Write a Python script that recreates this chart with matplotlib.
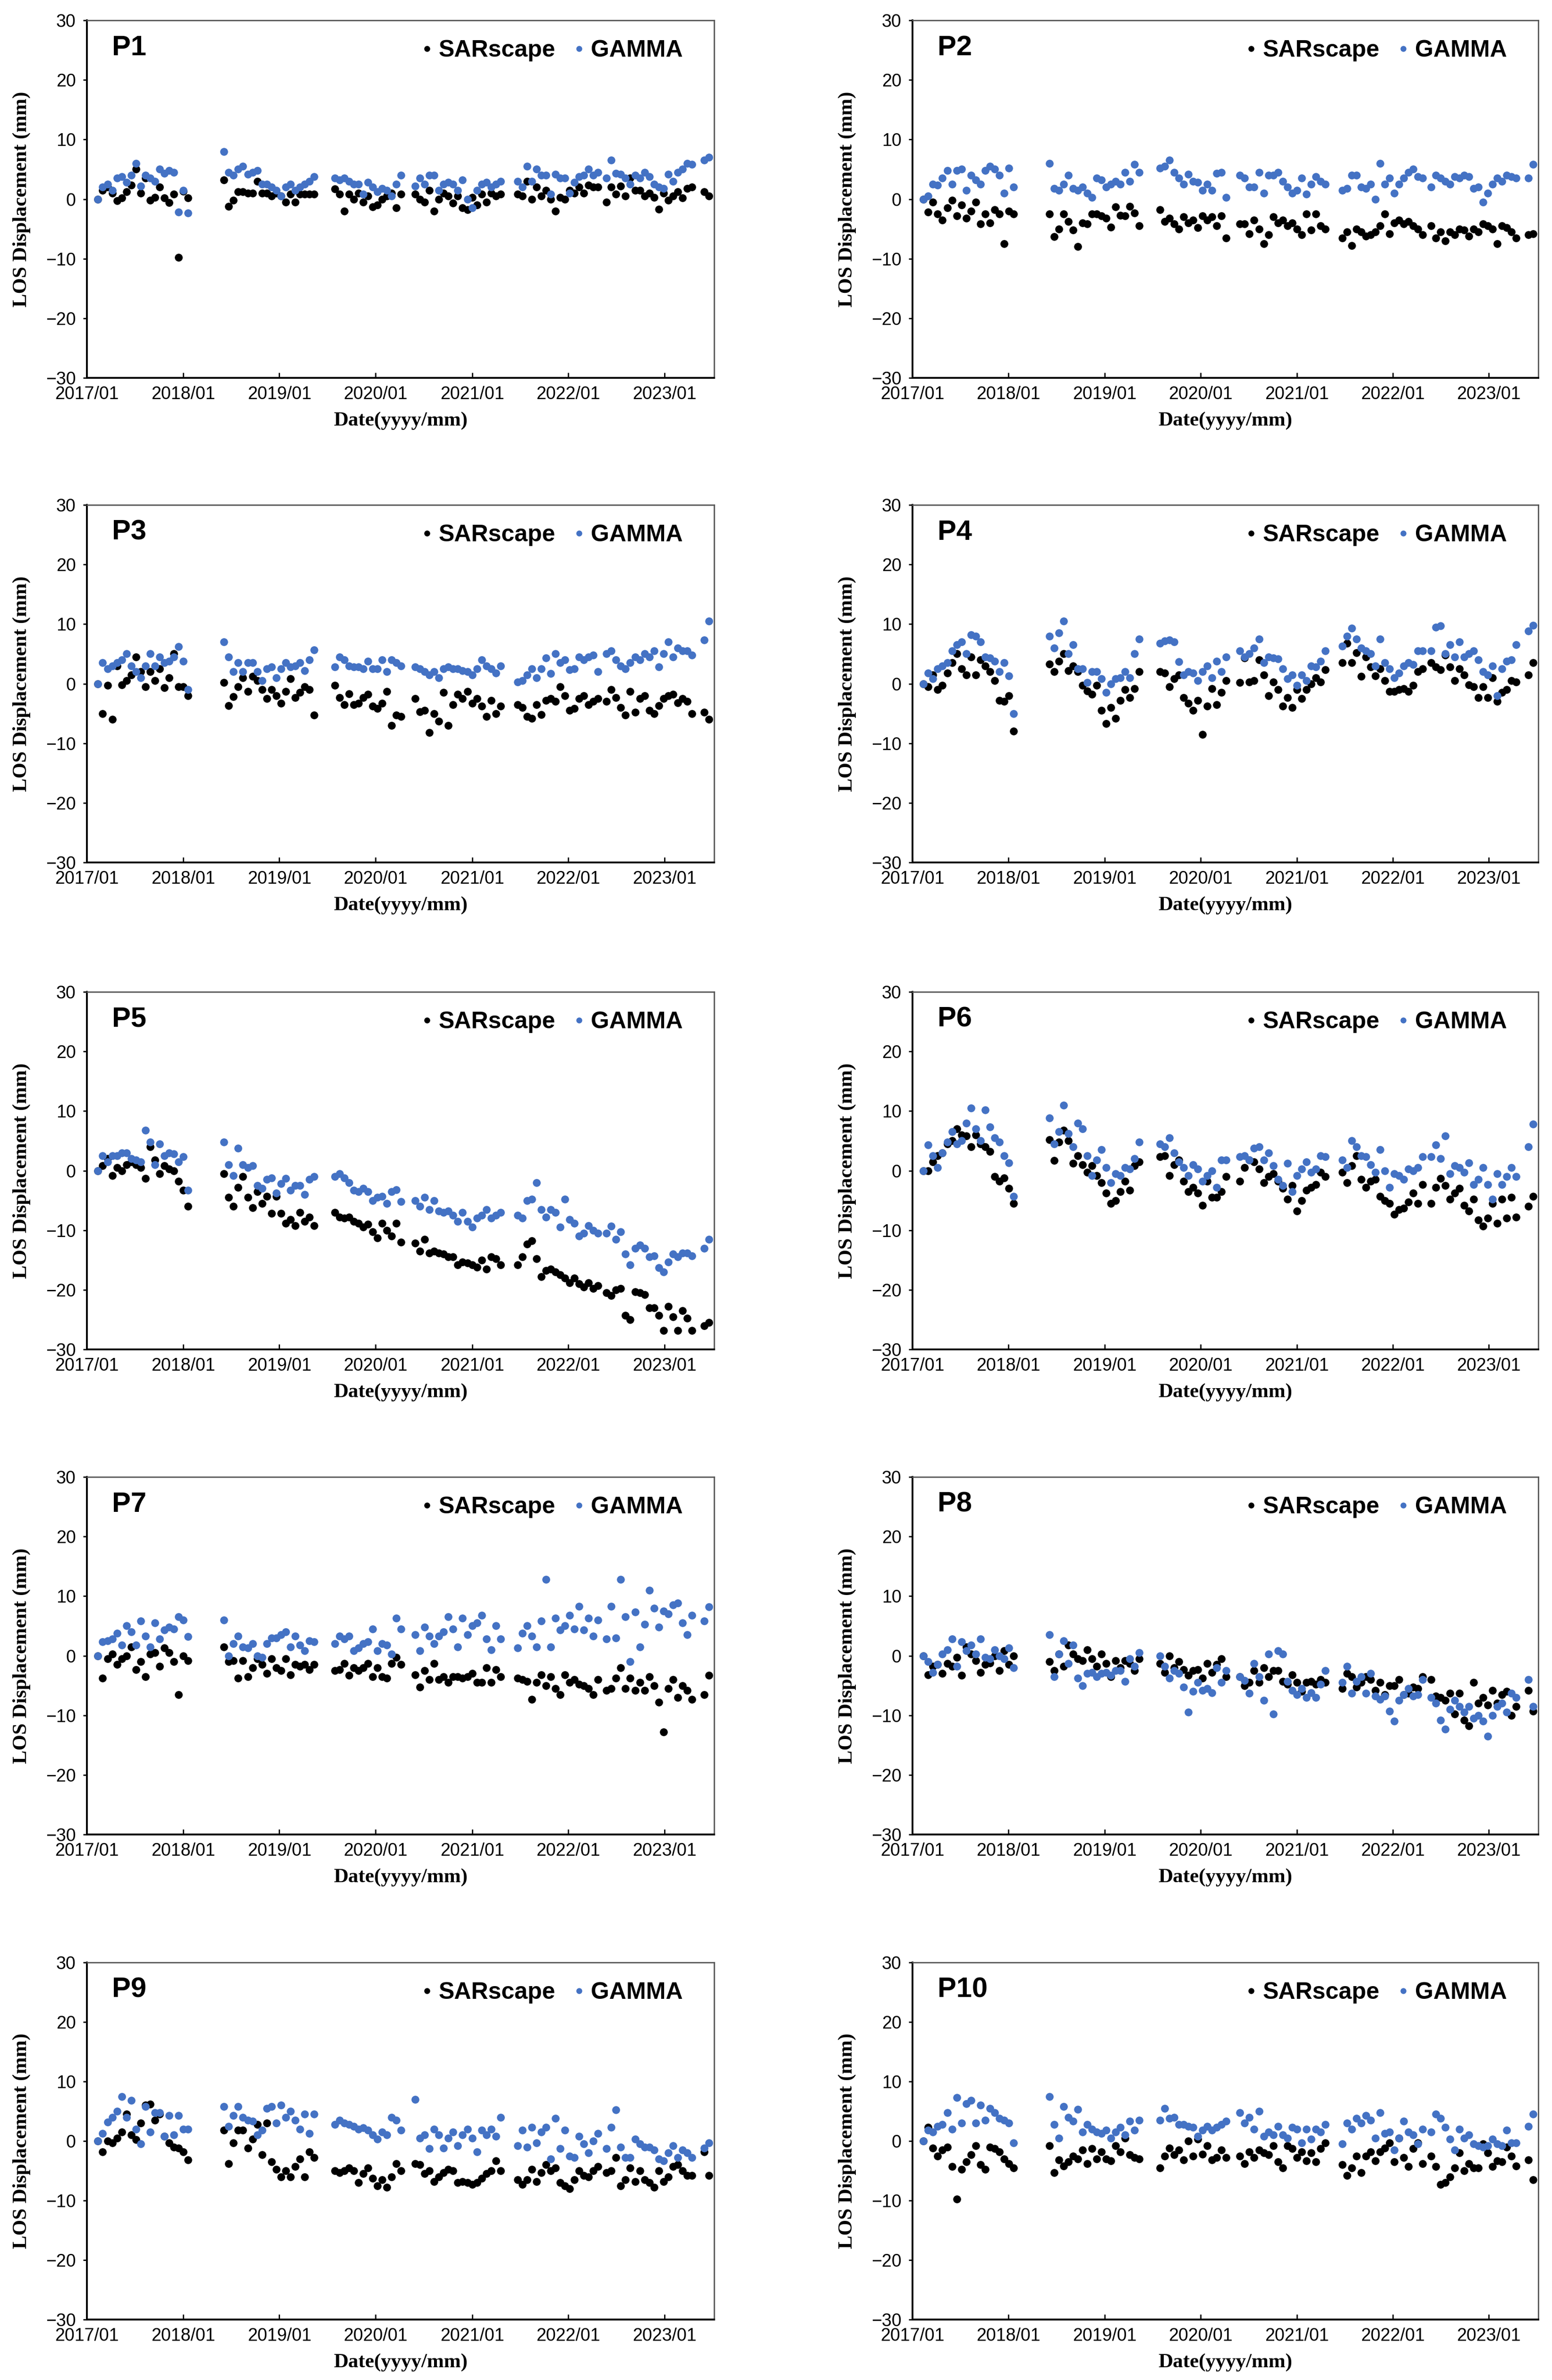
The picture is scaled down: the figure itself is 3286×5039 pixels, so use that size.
import numpy as np
import pandas as pd
import matplotlib
matplotlib.use("Agg")
import matplotlib.pyplot as plt
import matplotlib.dates as mdates
from matplotlib.lines import Line2D

# acquisition blocks: first date of each block, regular revisit inside a block
seg_starts = ["2017-02-12", "2018-06-05", "2019-07-30", "2020-05-30",
              "2021-06-22", "2022-05-26", "2023-06-01"]
revisit = "18D"

panel_names = ["P1", "P2", "P3", "P4", "P5", "P6", "P7", "P8", "P9", "P10"]

# LOS displacement (mm), one inner list per acquisition block
p1_sarscape = [
    [0.0, 1.5, 2.0, 1.0, -0.3, 0.2, 1.2, 2.3, 5.0, 1.0, 3.5, -0.2, 0.3, 2.0, 0.2, -0.6, 0.8, -9.8, 1.3, 0.2],
    [3.2, -1.2, -0.2, 1.2, 1.2, 1.0, 1.0, 3.0, 1.0, 1.0, 0.5, 1.0, 0.5, -0.5, 0.8, -0.5, 0.8, 0.8, 0.8, 0.8],
    [1.7, 0.8, -2.0, 0.8, 0.0, 1.0, -0.5, 0.5, -1.3, -1.0, 0.0, 0.5, 1.0, -1.5, 0.8],
    [0.8, 0.0, -0.5, 1.5, -2.0, 0.0, 1.0, 0.5, -0.7, 0.5, -1.5, -1.8, 0.3, -1.0, 0.8, -0.5, 1.0, 0.5, 0.8],
    [0.8, 0.5, 3.0, 0.0, 2.0, 0.5, 1.5, 0.0, -2.0, 0.3, 0.0, 1.5, 1.0, 2.0, 1.0, 2.3, 2.0, 2.0],
    [-0.5, 2.0, 0.8, 2.2, 0.5, 3.5, 1.5, 1.5, 0.5, 1.0, 0.3, -1.7, 1.0, -0.2, 0.5, 1.2, 0.2, 1.8, 2.0],
    [1.2, 0.5],
]
p1_gamma = [
    [0.0, 2.0, 2.5, 1.5, 3.5, 3.8, 2.8, 4.0, 6.0, 2.2, 4.0, 3.5, 3.0, 5.0, 4.3, 4.8, 4.5, -2.2, 1.5, -2.3],
    [8.0, 4.5, 4.0, 5.0, 5.5, 4.2, 4.5, 4.8, 2.5, 2.5, 2.0, 1.5, 0.5, 2.0, 2.5, 1.5, 2.0, 2.5, 3.0, 3.8],
    [3.5, 3.2, 3.5, 3.0, 2.5, 2.5, 0.8, 2.8, 2.0, 1.2, 1.8, 1.5, 0.5, 2.5, 4.0],
    [2.2, 3.5, 2.5, 4.0, 4.0, 1.5, 2.5, 2.8, 2.5, 1.5, 3.2, 0.0, -1.5, 1.5, 2.5, 2.8, 2.0, 2.5, 3.0],
    [3.0, 2.0, 5.5, 3.0, 5.0, 4.0, 4.0, 0.8, 4.2, 3.5, 3.5, 1.0, 2.8, 3.8, 4.0, 5.0, 4.0, 4.5],
    [3.5, 6.5, 4.3, 4.2, 3.5, 2.5, 4.0, 3.5, 4.5, 3.8, 2.5, 2.0, 1.8, 4.2, 3.0, 4.5, 5.0, 6.0, 5.8],
    [6.5, 7.0],
]

p2_sarscape = [
    [0.0, -2.2, -0.5, -2.5, -3.5, -1.5, -0.2, -2.8, -1.0, -3.2, -2.0, -0.5, -4.2, -2.5, -4.0, -1.8, -2.5, -7.5, -2.0, -2.5],
    [-2.5, -6.3, -5.0, -2.5, -3.8, -5.2, -8.0, -4.0, -4.2, -2.5, -2.5, -2.8, -3.2, -4.7, -1.3, -2.7, -2.8, -1.2, -2.3, -4.5],
    [-1.8, -3.8, -3.2, -4.2, -5.0, -3.0, -4.0, -3.5, -4.8, -2.8, -3.5, -3.0, -4.5, -2.8, -6.5],
    [-4.2, -4.2, -5.8, -3.5, -5.0, -7.5, -6.0, -3.0, -4.0, -3.5, -4.5, -4.0, -5.0, -6.0, -2.5, -5.2, -2.5, -4.5, -5.0],
    [-6.5, -5.5, -7.8, -5.0, -5.5, -6.2, -6.0, -5.5, -4.5, -2.5, -5.8, -4.0, -3.5, -4.2, -3.8, -4.5, -5.0, -6.0],
    [-4.5, -6.5, -5.5, -7.0, -5.5, -6.0, -5.0, -5.2, -6.2, -5.0, -5.5, -4.2, -4.5, -5.0, -7.5, -4.5, -4.8, -5.5, -6.5],
    [-6.0, -5.8],
]
p2_gamma = [
    [0.0, 0.5, 2.5, 2.3, 3.5, 4.8, 2.5, 4.8, 5.0, 1.5, 4.0, 3.2, 2.5, 4.8, 5.5, 5.0, 4.0, 1.0, 5.2, 2.0],
    [6.0, 1.8, 1.5, 2.5, 4.0, 1.8, 1.5, 2.0, 1.0, 0.3, 3.5, 3.2, 2.0, 2.5, 3.0, 2.5, 4.5, 3.0, 5.8, 4.5],
    [5.2, 5.5, 6.5, 4.5, 3.5, 2.5, 4.2, 3.0, 2.8, 1.5, 2.5, 1.5, 4.3, 4.5, 0.3],
    [4.0, 3.5, 2.0, 2.0, 4.5, 1.0, 4.0, 4.0, 4.5, 3.0, 2.0, 1.0, 1.5, 3.5, 0.8, 2.5, 3.8, 3.0, 2.5],
    [1.5, 1.8, 4.0, 4.0, 2.0, 1.8, 2.5, 0.0, 6.0, 2.5, 3.5, 1.0, 2.5, 3.5, 4.5, 5.0, 3.8, 3.5],
    [2.0, 4.0, 3.5, 3.0, 2.5, 3.8, 3.5, 4.0, 3.8, 1.8, 2.0, -0.5, 1.0, 2.5, 3.5, 3.0, 4.0, 3.8, 3.5],
    [3.5, 5.8],
]

p3_sarscape = [
    [0.0, -5.0, -0.3, -6.0, 3.0, -0.2, 0.5, 1.5, 4.5, 2.0, -0.5, 2.0, 0.5, 2.5, -0.7, 1.0, 5.0, -0.5, -0.5, -2.0],
    [0.2, -3.7, -2.2, -0.5, 1.0, -1.3, 1.2, 0.5, -1.0, -2.5, -1.0, -2.0, -3.3, -1.3, 0.8, -2.3, -1.5, -0.5, -1.0, -5.3],
    [-0.3, -2.3, -3.5, -1.7, -3.5, -3.3, -2.3, -1.8, -3.8, -4.2, -3.3, -1.3, -7.0, -5.3, -5.5],
    [-2.5, -4.7, -4.5, -8.2, -5.0, -6.3, -1.5, -7.0, -3.5, -1.8, -2.5, -1.3, -3.3, -2.5, -3.8, -5.5, -2.8, -5.0, -3.8],
    [-3.5, -4.0, -5.5, -5.8, -3.5, -5.2, -2.8, -2.5, -3.0, -0.5, -2.0, -4.5, -4.2, -2.5, -2.0, -3.5, -3.0, -2.5],
    [-3.0, -1.0, -2.3, -4.0, -5.3, -1.3, -4.8, -2.5, -2.0, -4.5, -5.0, -3.7, -2.5, -2.0, -1.8, -3.2, -2.5, -3.0, -5.0],
    [-4.8, -6.0],
]
p3_gamma = [
    [0.0, 3.5, 2.5, 3.0, 3.5, 4.0, 5.0, 3.0, 2.0, 1.0, 3.0, 5.0, 3.0, 4.5, 3.5, 3.8, 4.5, 6.2, 3.8, -1.0],
    [7.0, 4.5, 2.0, 3.5, 2.0, 3.5, 3.5, 2.0, 0.5, 2.5, 2.8, 1.0, 2.5, 3.5, 2.8, 3.0, 3.5, 2.2, 4.0, 5.7],
    [2.8, 4.5, 4.0, 3.0, 2.8, 2.8, 2.5, 3.8, 2.5, 2.5, 4.0, 2.0, 4.0, 3.5, 3.0],
    [2.8, 2.5, 2.0, 1.5, 2.0, 1.0, 2.5, 2.8, 2.5, 2.5, 2.2, 2.0, 1.5, 2.5, 4.0, 3.0, 2.5, 1.8, 3.0],
    [0.3, 0.5, 1.5, 2.5, 1.0, 2.5, 4.3, 1.7, 5.0, 3.5, 4.0, 2.3, 2.5, 4.5, 4.0, 4.5, 4.8, 2.0],
    [5.0, 5.5, 4.0, 3.0, 2.5, 3.5, 4.5, 4.0, 5.0, 4.5, 5.5, 2.8, 5.0, 7.0, 4.5, 6.0, 5.5, 5.5, 4.8],
    [7.3, 10.5],
]

p4_sarscape = [
    [0.0, -0.5, 1.5, -1.0, -0.3, 1.8, 3.5, 5.0, 2.5, 1.5, 4.5, 1.5, 4.0, 3.0, 2.0, 0.5, -2.8, -3.0, -2.0, -8.0],
    [3.3, 2.0, 3.8, 5.0, 2.2, 3.0, 2.0, -0.3, -1.2, -1.8, -0.3, -4.5, -6.7, -4.0, -5.8, -2.8, -1.0, -2.3, -0.8, 2.0],
    [2.0, 1.8, -0.5, 0.8, 1.5, -2.3, -3.3, -4.5, -2.8, -8.5, -3.8, -0.8, -3.5, -1.5, 0.5],
    [0.2, 4.3, 0.3, 0.5, 4.0, 1.5, -2.0, 0.3, -1.0, -3.8, -2.3, -4.0, -1.0, -2.5, -1.0, 0.0, 1.0, 0.3, 2.3],
    [3.5, 6.8, 3.5, 5.2, 1.2, 4.5, 2.8, 1.3, 2.5, 0.5, -1.3, -1.3, -1.0, -0.8, -1.3, -0.3, 2.0, 2.5],
    [3.5, 2.8, 2.3, 4.8, 2.8, 0.5, 2.5, 1.5, -0.2, -0.5, -2.3, -0.5, -2.3, 1.0, -3.0, -1.5, -1.0, 0.5, 0.3],
    [1.5, 3.5],
]
p4_gamma = [
    [0.0, 1.8, 0.8, 2.5, 3.0, 3.5, 5.5, 6.5, 7.0, 5.0, 8.2, 8.0, 7.0, 4.5, 4.3, 3.8, 2.0, 3.5, 1.3, -5.0],
    [8.0, 6.0, 8.5, 10.5, 5.0, 6.5, 2.5, 2.5, 0.2, 2.0, 2.0, 0.8, -1.5, 0.0, 0.8, 1.0, 2.0, 1.0, 5.0, 7.5],
    [6.8, 7.2, 7.3, 7.0, 3.7, 1.5, 2.0, 1.8, 0.5, 2.0, 3.0, 1.0, 3.8, 2.0, 4.5],
    [5.5, 4.5, 5.0, 6.0, 7.5, 3.5, 4.5, 4.3, 4.2, 2.5, 0.8, 1.5, -0.3, 1.5, 0.5, 3.0, 2.8, 3.8, 5.5],
    [6.3, 8.0, 9.3, 7.5, 6.0, 5.5, 5.0, 3.0, 7.5, 3.5, 2.5, 1.0, 1.8, 3.0, 3.5, 3.2, 5.5, 5.5],
    [5.5, 9.5, 9.7, 5.0, 6.5, 4.5, 7.0, 4.5, 5.0, 5.5, 4.0, 2.0, 1.5, 3.0, -2.0, 2.5, 3.8, 4.0, 6.5],
    [8.8, 9.8],
]

p5_sarscape = [
    [0.0, 0.8, 2.0, -0.8, 0.5, 0.0, 1.0, 1.5, 1.0, 0.5, -1.3, 4.0, 1.8, -0.5, 0.8, 0.3, 0.0, -1.8, -3.3, -6.0],
    [-0.5, -4.5, -6.0, -2.8, -1.0, -4.5, -6.2, -3.5, -5.5, -4.3, -7.2, -4.3, -7.2, -8.8, -8.2, -9.2, -7.0, -8.5, -7.8, -9.2],
    [-7.0, -7.8, -8.0, -7.8, -8.5, -8.8, -9.5, -9.0, -10.3, -11.3, -8.8, -10.0, -11.0, -8.8, -12.0],
    [-12.2, -13.5, -11.5, -13.8, -13.5, -13.8, -14.0, -14.5, -14.5, -15.8, -15.3, -15.5, -15.8, -16.2, -15.0, -16.5, -14.5, -14.8, -15.8],
    [-15.8, -14.5, -12.3, -11.8, -14.8, -17.8, -16.8, -16.5, -17.0, -17.5, -18.0, -18.8, -18.0, -19.0, -19.5, -18.8, -19.8, -19.3],
    [-20.5, -21.0, -20.0, -19.8, -24.3, -25.0, -20.3, -20.5, -20.8, -23.0, -23.0, -24.3, -26.8, -22.8, -24.5, -26.8, -23.5, -24.8, -26.8],
    [-26.0, -25.5],
]
p5_gamma = [
    [0.0, 2.5, 1.5, 2.5, 2.5, 3.0, 3.0, 2.0, 1.8, 1.5, 6.8, 4.8, 1.0, 4.5, 2.5, 3.0, 2.8, 1.5, 2.3, -3.3],
    [4.8, 1.0, -0.8, 3.8, 1.0, 0.5, 0.8, -2.5, -3.0, -1.5, -1.2, -3.8, -2.2, -1.3, -3.3, -2.5, -2.5, -4.0, -1.5, -1.0],
    [-1.0, -0.5, -1.2, -2.0, -3.3, -3.5, -3.0, -3.5, -5.0, -4.5, -4.3, -5.5, -3.5, -3.2, -5.2],
    [-5.0, -6.0, -4.5, -6.5, -5.0, -6.8, -7.0, -6.8, -7.5, -8.5, -7.0, -8.5, -9.5, -8.0, -7.5, -6.5, -8.0, -7.5, -7.0],
    [-7.5, -8.0, -5.0, -4.8, -2.0, -6.5, -7.8, -6.5, -7.0, -9.5, -4.8, -8.2, -8.8, -11.0, -10.5, -9.2, -10.0, -10.5],
    [-10.5, -9.3, -11.5, -10.3, -14.0, -15.8, -13.0, -12.5, -13.0, -14.5, -14.3, -16.3, -17.0, -15.3, -14.0, -14.5, -13.8, -13.8, -14.3],
    [-13.0, -11.5],
]

p6_sarscape = [
    [0.0, 0.0, 1.5, 2.5, 3.0, 4.5, 5.0, 7.0, 6.0, 5.8, 4.0, 6.0, 4.5, 4.0, 3.2, -1.0, -1.8, -1.2, -3.0, -5.5],
    [5.2, 1.7, 4.8, 6.8, 5.0, 1.2, 2.5, 1.0, -0.3, 0.8, -0.8, -2.0, -3.8, -5.5, -5.0, -3.5, -1.8, -3.3, 0.8, 1.5],
    [2.3, 2.5, -0.8, 1.0, 1.8, -1.8, -3.5, -2.8, -3.8, -5.8, -1.8, -4.5, -4.5, -3.5, -1.0],
    [-1.8, 0.5, 1.8, 1.5, 0.3, -2.0, -1.0, -0.5, -1.8, -3.0, -4.8, -2.5, -6.8, -5.0, -3.3, -2.8, -2.3, -0.3, -1.0],
    [-0.3, -2.0, 0.8, 2.5, -1.5, -2.8, -1.8, -1.5, -4.3, -5.0, -5.5, -7.3, -6.5, -6.3, -5.3, -3.8, -5.5, -2.3],
    [-5.5, -2.8, -1.3, -2.5, -4.8, -3.8, -3.0, -5.8, -6.8, -4.8, -8.3, -9.3, -8.0, -5.5, -8.8, -4.8, -8.0, -4.5, -7.8],
    [-6.0, -4.3],
]
p6_gamma = [
    [0.0, 4.3, 2.5, 0.5, 3.0, 4.8, 6.5, 4.5, 5.0, 8.0, 10.5, 7.0, 5.0, 10.2, 7.3, 5.5, 4.8, 2.5, 1.3, -4.3],
    [8.8, 4.5, 6.5, 11.0, 6.2, 4.0, 8.0, 7.0, 2.5, -0.8, 1.8, 3.5, 0.5, -2.0, -0.5, -0.8, 0.5, 0.3, 2.0, 4.8],
    [4.5, 4.0, 5.5, 3.0, 1.5, 0.5, -0.8, 1.0, 0.3, -1.8, -0.8, 0.0, -2.8, 1.8, 1.8],
    [2.3, 2.5, 1.8, 3.8, 4.0, 1.8, 3.0, 0.8, -1.5, -2.5, 1.2, -3.5, -0.8, 0.3, 1.5, -0.3, 0.3, 2.5, 2.3],
    [1.8, 0.5, 5.0, 4.0, 2.5, 2.3, 1.0, -0.3, 3.5, 0.0, -2.8, -0.5, -0.8, -1.5, 0.3, 0.0, 0.5, 2.3],
    [2.3, 4.3, 2.0, 5.8, -0.5, 0.8, 0.5, -0.3, 1.3, -2.3, -1.5, 0.5, -2.3, -4.8, -0.5, -2.3, -1.0, 0.5, -1.0],
    [4.0, 7.8],
]

p7_sarscape = [
    [0.0, -3.8, -0.5, 0.3, -1.5, -0.5, 0.0, 1.5, -2.3, -1.0, -3.5, 0.3, 0.5, -1.8, 1.3, 0.5, -1.0, -6.5, 0.0, -0.8],
    [1.5, -1.0, -0.8, -3.8, -0.8, -3.5, -2.0, -0.5, -1.5, -3.0, -0.5, -2.0, -2.5, -0.5, -3.2, -1.5, -1.8, -1.5, -2.3, -1.5],
    [-2.5, -2.3, -1.3, -3.3, -2.0, -2.5, -2.0, -1.3, -3.5, -2.0, -3.5, -3.8, -1.3, -0.3, -1.5],
    [-3.2, -5.3, -2.5, -4.0, -1.3, -4.0, -3.5, -4.5, -3.5, -3.5, -3.8, -3.5, -3.0, -4.5, -4.5, -2.0, -4.5, -2.3, -3.5],
    [-3.8, -4.0, -4.3, -7.3, -4.5, -3.2, -5.0, -3.5, -5.5, -6.5, -3.2, -4.5, -4.0, -4.8, -5.0, -5.5, -6.5, -4.0],
    [-5.8, -5.5, -3.8, -2.0, -5.5, -3.8, -5.8, -4.5, -5.8, -3.5, -5.0, -7.8, -12.8, -5.5, -4.0, -7.0, -5.0, -5.8, -7.3],
    [-6.5, -3.3],
]
p7_gamma = [
    [0.0, 2.3, 2.5, 2.8, 3.8, 1.8, 5.0, 4.0, 1.8, 5.8, 3.3, 1.5, 5.5, 2.8, 4.3, 4.8, 4.5, 6.5, 6.0, 3.2],
    [6.0, 0.0, 2.0, 3.3, 1.5, 1.3, 2.0, 0.0, -0.3, 2.0, 3.0, 3.0, 3.5, 4.0, 1.5, 3.3, 1.8, 0.8, 2.5, 2.3],
    [2.0, 3.3, 2.8, 3.3, 0.8, 1.3, 2.0, 2.3, 4.5, 0.8, 2.0, 1.8, 0.3, 6.3, 4.5],
    [3.5, 0.8, 4.8, 3.3, 2.0, 3.3, 4.0, 6.5, 4.5, 1.5, 6.3, 3.5, 5.0, 5.5, 6.8, 2.8, 1.0, 5.0, 2.8],
    [1.3, 3.8, 5.0, 3.3, 1.5, 5.8, 12.8, 1.5, 6.3, 4.3, 5.0, 6.8, 4.5, 8.3, 4.3, 6.3, 3.3, 6.0],
    [2.8, 8.3, 3.0, 12.8, 6.5, -1.0, 7.3, 1.5, 5.3, 11.0, 8.0, 4.8, 7.5, 7.0, 8.5, 8.8, 5.5, 3.5, 6.8],
    [5.8, 8.2],
]

p8_sarscape = [
    [0.0, -3.2, -1.8, -1.5, -3.0, -1.3, -1.8, -0.3, -3.3, 1.5, 0.3, -0.8, -2.8, -1.5, -1.2, 0.0, -2.5, 0.8, -1.5, 0.0],
    [-1.0, -2.5, 0.3, -1.8, 1.8, 0.3, -0.5, -0.8, 1.0, -0.5, -1.8, 0.3, -1.3, -3.5, -0.8, -2.0, -0.8, -1.3, -2.5, -0.5],
    [-1.3, -2.8, 0.0, -2.0, -1.0, -2.3, -3.3, -2.5, -2.3, -3.8, -1.3, -2.8, -1.5, -0.5, -3.5],
    [-3.5, -5.0, -4.5, -2.5, -4.5, -2.0, -3.5, -2.5, -2.5, -4.3, -4.8, -3.2, -4.5, -6.0, -4.5, -4.3, -4.8, -4.0, -4.5],
    [-5.5, -3.0, -3.5, -5.3, -4.5, -3.5, -4.0, -5.8, -4.5, -6.5, -5.0, -5.0, -4.0, -6.5, -6.3, -5.3, -5.5, -3.5],
    [-4.0, -6.8, -7.0, -7.5, -6.3, -9.8, -6.3, -10.8, -11.8, -4.5, -8.0, -7.0, -8.3, -5.8, -8.0, -6.5, -6.0, -10.0, -8.5],
    [-5.8, -9.3],
]
p8_gamma = [
    [0.0, -1.0, -2.8, -1.5, 0.3, 1.0, 2.8, -1.8, 2.3, 0.8, 1.8, 0.3, 2.8, -0.3, -0.5, 1.0, 0.0, -0.5, 1.3, -2.0],
    [3.5, -3.5, 0.3, 2.5, -1.3, 1.8, -3.8, -5.0, -3.0, -2.8, -3.5, -3.0, -2.8, -3.3, -2.5, -2.5, -4.3, -0.5, -1.8, 0.5],
    [0.0, -1.8, -3.8, -2.5, -3.0, -5.3, -9.5, -6.0, -4.5, -5.8, -5.5, -6.2, -2.0, -4.5, -2.5],
    [-3.5, -4.2, -6.3, -1.3, -3.5, -7.5, 0.3, -9.8, 0.8, 0.3, -4.3, -5.8, -6.5, -5.5, -7.0, -6.2, -7.0, -4.8, -2.5],
    [-4.5, -1.8, -6.3, -4.3, -3.5, -6.3, -3.0, -6.8, -7.3, -6.8, -9.3, -11.0, -7.5, -6.5, -5.5, -6.8, -6.5, -4.0],
    [-7.0, -8.0, -10.8, -12.3, -9.0, -7.5, -8.5, -9.5, -8.5, -10.5, -10.0, -11.0, -13.5, -10.0, -8.5, -8.0, -9.5, -6.3, -7.0],
    [-4.0, -8.5],
]

p9_sarscape = [
    [0.0, -1.8, 0.0, -0.3, 0.5, 1.5, 4.5, 1.0, 0.2, 3.0, 6.0, 6.2, 3.5, 4.5, 0.8, -0.3, -1.0, -1.2, -1.8, -3.2],
    [1.8, -3.8, -0.3, 1.8, 1.8, -1.2, 0.3, 2.8, -2.3, 3.0, -3.5, -4.8, -6.0, -5.0, -6.0, -4.3, -3.0, -6.0, -1.8, -2.8],
    [-5.0, -5.3, -5.0, -4.5, -5.0, -7.0, -5.5, -4.5, -6.3, -7.5, -6.5, -7.8, -6.0, -3.8, -5.0],
    [-3.8, -4.0, -5.5, -5.0, -6.8, -6.0, -5.3, -4.8, -5.0, -7.0, -6.8, -7.0, -7.3, -7.0, -6.3, -5.5, -5.0, -3.3, -5.0],
    [-6.5, -7.3, -6.5, -4.8, -6.8, -5.3, -4.0, -5.0, -4.5, -7.0, -7.5, -8.0, -6.5, -5.0, -5.8, -6.0, -5.0, -4.3],
    [-5.3, -5.0, -2.8, -7.5, -6.5, -4.5, -6.8, -5.0, -6.5, -7.0, -7.8, -5.0, -6.8, -6.0, -4.3, -4.0, -5.0, -5.8, -5.8],
    [-1.8, -5.8],
]
p9_gamma = [
    [0.0, 1.3, 3.2, 4.0, 5.0, 7.5, 4.0, 6.8, 2.0, -0.5, 5.8, 1.5, 4.8, 4.8, 0.8, 4.3, 1.0, 4.3, 2.0, 2.0],
    [5.8, 2.5, 4.3, 5.8, 4.0, 3.5, 3.3, 1.0, 1.8, 5.5, 5.8, 3.0, 6.0, 4.0, 5.0, 3.5, 2.0, 4.5, 1.3, 4.5],
    [2.8, 3.5, 3.0, 2.8, 2.5, 2.0, 2.2, 1.8, 1.0, 0.3, 1.5, 1.0, 4.0, 3.5, 1.8],
    [7.0, 0.5, 1.0, -1.3, 2.0, 1.0, -1.2, 0.5, 1.5, -0.8, 1.0, 2.0, 0.5, -1.8, 1.8, 1.0, 2.0, 0.8, 4.0],
    [-0.8, 1.8, -1.0, 2.3, -0.3, 1.5, 2.3, -3.0, 3.8, -1.3, 1.8, -2.5, -2.8, 0.8, -0.5, -2.0, 0.0, 1.3],
    [-1.3, 2.3, 5.2, -1.0, -2.8, -2.8, 0.3, -0.5, -1.0, -1.0, -1.5, -3.0, -3.3, -2.0, -0.8, -2.8, -1.5, -2.0, -2.8],
    [-1.2, -0.3],
]

p10_sarscape = [
    [0.0, 2.3, -1.2, -2.5, -1.5, -1.0, -4.3, -9.8, -4.8, -3.5, -2.3, -0.8, -4.0, -4.8, -1.0, -1.3, -1.8, -3.0, -3.8, -4.5],
    [-0.8, -5.3, -3.2, -4.2, -3.5, -2.5, -3.0, -1.5, -3.8, -1.3, -3.0, -1.8, -3.0, -3.3, -0.8, -1.8, 0.5, -2.3, -2.8, -3.0],
    [-4.5, -2.5, -1.2, -2.3, -1.5, -3.2, 0.0, -2.5, 0.3, -2.2, -0.8, -3.2, -2.8, -1.5, -2.8],
    [-2.5, -3.8, -1.8, -2.8, -1.5, -2.0, -2.3, -0.8, -3.5, -4.5, -0.8, -1.3, -2.8, -1.8, -3.3, -2.0, -3.5, -1.3, -0.3],
    [-4.0, -5.8, -4.5, -2.5, -5.3, -2.5, -1.8, -3.3, -1.8, -1.2, -0.3, -3.5, 0.5, -2.8, -4.3, -1.3, -0.3, -3.8],
    [-2.5, -4.3, -7.3, -7.0, -6.0, -4.5, -2.0, -5.0, -3.8, -4.5, -4.5, -0.5, -2.0, -4.3, -3.3, -3.5, -1.0, -2.5, -4.2],
    [-3.2, -6.5],
]
p10_gamma = [
    [0.0, 1.8, 1.5, 2.5, 2.8, 4.8, 2.0, 7.3, 3.0, 6.3, 6.8, 3.0, 6.0, 3.5, 5.5, 4.8, 3.8, 3.5, 3.0, -0.3],
    [7.5, 2.8, 0.5, 5.8, 4.0, 3.3, 5.3, 1.5, 2.8, 2.0, 1.5, 1.3, 1.8, 0.5, 1.5, 2.3, 1.0, 3.3, 1.8, 3.5],
    [3.5, 5.5, 3.8, 4.0, 2.8, 2.8, 2.5, 2.3, 0.8, 1.8, 2.5, 1.8, 2.3, 2.8, 3.3],
    [4.8, 3.0, 4.0, 2.0, 5.0, 0.8, 1.5, 1.0, 2.5, 1.0, 0.5, 2.3, 2.0, -0.3, 2.0, 0.3, 2.0, 1.5, 2.8],
    [-0.5, 3.0, 2.0, 3.8, 3.0, 4.3, 3.5, 0.5, 4.8, 1.3, 1.5, -1.5, 0.5, 3.3, 1.5, 1.0, -0.5, 2.0],
    [1.5, 4.5, 3.8, 2.3, 0.3, -1.5, 2.0, 0.5, 1.0, -0.5, -0.8, -1.0, -0.8, 0.3, -0.5, -0.8, 1.8, -0.3, -0.3],
    [2.5, 4.5],
]

sarscape_all = [p1_sarscape, p2_sarscape, p3_sarscape, p4_sarscape, p5_sarscape,
                p6_sarscape, p7_sarscape, p8_sarscape, p9_sarscape, p10_sarscape]
gamma_all = [p1_gamma, p2_gamma, p3_gamma, p4_gamma, p5_gamma,
             p6_gamma, p7_gamma, p8_gamma, p9_gamma, p10_gamma]


def to_xy(series):
    xs, ys = [], []
    for start, vals in zip(seg_starts, series):
        xs.extend(pd.date_range(start, periods=len(vals), freq=revisit))
        ys.extend(vals)
    return xs, ys


W, H = 3287, 5039
fig = plt.figure(figsize=(W / 100, H / 100), dpi=100)

col_x = [(184, 1512), (1932, 3257)]
row_y = [(43, 800), (1069, 1826), (2100, 2857), (3127, 3884), (4155, 4911)]

blue = "#4472C4"
sans = "Liberation Sans"
serif = "Liberation Serif"

for i, name in enumerate(panel_names):
    r, c = divmod(i, 2)
    x0, x1 = col_x[c]
    y0, y1 = row_y[r]
    ax = fig.add_axes([x0 / W, 1 - y1 / H, (x1 - x0) / W, (y1 - y0) / H])

    xs, ys = to_xy(sarscape_all[i])
    ax.plot(xs, ys, "o", color="black", ms=12, mew=0, zorder=3)
    xs, ys = to_xy(gamma_all[i])
    ax.plot(xs, ys, "o", color=blue, ms=12, mew=0, zorder=4)

    ax.set_xlim(pd.Timestamp("2017-01-01"), pd.Timestamp("2023-07-08"))
    ax.set_ylim(-30, 30)
    ax.set_yticks(np.arange(-30, 31, 10))
    ax.xaxis.set_major_locator(mdates.YearLocator())
    ax.xaxis.set_major_formatter(mdates.DateFormatter("%Y/%m"))

    for side in ["left", "bottom"]:
        ax.spines[side].set_linewidth(2.8)
        ax.spines[side].set_color("black")
    for side in ["top", "right"]:
        ax.spines[side].set_linewidth(2.0)
        ax.spines[side].set_color("#555555")

    ax.tick_params(axis="x", direction="in", length=8, width=2, pad=12)
    ax.tick_params(axis="y", direction="out", length=6, width=2, pad=11)
    for lab in ax.get_xticklabels() + ax.get_yticklabels():
        lab.set_fontfamily(sans)
        lab.set_fontsize(27)

    ax.set_ylabel("LOS Displacement (mm)", fontfamily=serif, fontweight="bold", fontsize=31)
    ax.yaxis.label.set_va("center")
    ax.yaxis.set_label_coords(-138 / (x1 - x0), 0.5)
    ax.set_xlabel("Date(yyyy/mm)", fontfamily=serif, fontweight="bold", fontsize=31)
    ax.xaxis.label.set_va("center")
    ax.xaxis.set_label_coords(0.5, -0.12)

    ax.text(0.04, 0.923, name, transform=ax.transAxes, ha="left", va="center",
            fontfamily=sans, fontweight="bold", fontsize=43)

    handles = [Line2D([], [], ls="", marker="o", color="black", ms=9, mew=0),
               Line2D([], [], ls="", marker="o", color=blue, ms=9, mew=0)]
    ax.legend(handles, ["SARscape", "GAMMA"], ncol=2, loc="center right",
              bbox_to_anchor=(0.95, 0.915), frameon=False, borderpad=0,
              borderaxespad=0, handlelength=0.4, handletextpad=0.3,
              columnspacing=0.8, prop={"family": sans, "weight": "bold", "size": 36})

fig.savefig("out.png", dpi=100, facecolor="white")
